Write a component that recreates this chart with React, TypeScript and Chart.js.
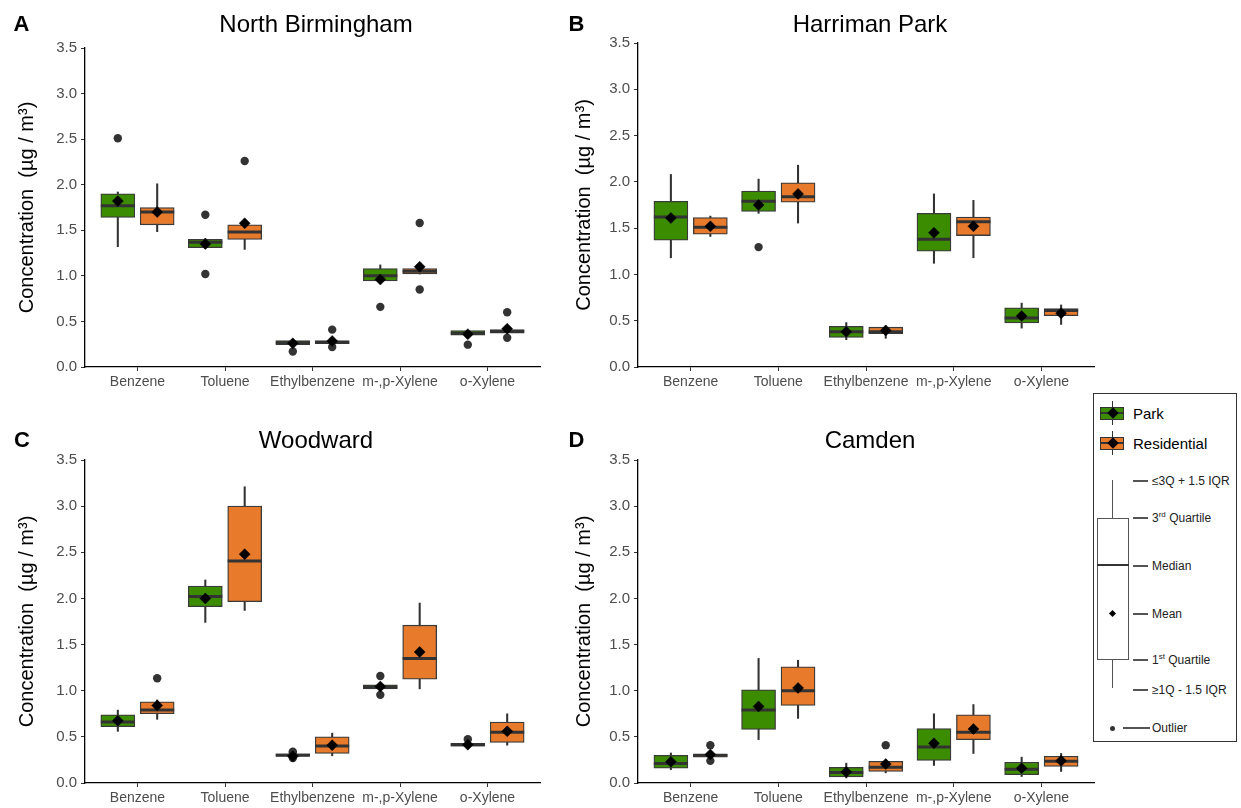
import React, { useEffect, useRef } from "react";
import { Chart, registerables } from "chart.js";
Chart.register(...registerables);

const FONT = '"Liberation Sans", Arial, Helvetica, sans-serif';
const PARK_COLOR = "#3C8C00";
const RES_COLOR = "#E87B2B";

const categories = ["Benzene", "Toluene", "Ethylbenzene", "m-,p-Xylene", "o-Xylene"];
const yMin = 0;
const yMax = 3.5;
const yStep = 0.5;

// each row: [lower whisker, Q1, median, Q3, upper whisker]
const northBirminghamPark = [
  [1.32, 1.64, 1.77, 1.9, 1.92],
  [1.3, 1.31, 1.37, 1.4, 1.41],
  [0.245, 0.245, 0.265, 0.29, 0.29],
  [0.94, 0.945, 1.0, 1.08, 1.12],
  [0.35, 0.35, 0.37, 0.4, 0.4],
];
const northBirminghamParkMean = [1.82, 1.35, 0.26, 0.96, 0.36];
const northBirminghamParkOutliers = [[2.51], [1.67, 1.02], [0.17], [0.66], [0.245]];
const northBirminghamRes = [
  [1.485, 1.56, 1.7, 1.75, 2.01],
  [1.29, 1.4, 1.48, 1.56, 1.58],
  [0.255, 0.255, 0.27, 0.29, 0.29],
  [1.02, 1.02, 1.05, 1.08, 1.09],
  [0.37, 0.37, 0.39, 0.41, 0.41],
];
const northBirminghamResMean = [1.7, 1.577, 0.285, 1.1, 0.42];
const northBirminghamResOutliers = [[], [2.26], [0.41, 0.22], [1.58, 0.85], [0.6, 0.32]];

const harrimanPark = [
  [1.18, 1.37, 1.62, 1.79, 2.08],
  [1.66, 1.68, 1.79, 1.9, 2.03],
  [0.295, 0.32, 0.38, 0.44, 0.48],
  [1.12, 1.25, 1.38, 1.66, 1.87],
  [0.42, 0.475, 0.53, 0.64, 0.69],
];
const harrimanParkMean = [1.61, 1.75, 0.38, 1.45, 0.55];
const harrimanParkOutliers = [[], [1.295], [], [], []];
const harrimanRes = [
  [1.41, 1.435, 1.51, 1.615, 1.63],
  [1.555, 1.78, 1.84, 1.99, 2.18],
  [0.31, 0.36, 0.38, 0.43, 0.445],
  [1.18, 1.42, 1.57, 1.62, 1.8],
  [0.46, 0.555, 0.61, 0.63, 0.67],
];
const harrimanResMean = [1.52, 1.87, 0.395, 1.52, 0.58];
const harrimanResOutliers = [[], [], [], [], []];

const woodwardPark = [
  [0.56, 0.61, 0.66, 0.74, 0.79],
  [1.74, 1.91, 2.02, 2.135, 2.2],
  [0.29, 0.29, 0.3, 0.317, 0.317],
  [1.02, 1.02, 1.04, 1.065, 1.065],
  [0.38, 0.4, 0.415, 0.43, 0.43],
];
const woodwardParkMean = [0.675, 2.0, 0.29, 1.045, 0.415];
const woodwardParkOutliers = [[], [], [0.34, 0.325, 0.27], [1.16, 0.955], [0.475]];
const woodwardRes = [
  [0.69, 0.75, 0.79, 0.88, 0.9],
  [1.87, 1.965, 2.405, 3.0, 3.21],
  [0.295, 0.32, 0.4, 0.5, 0.54],
  [1.02, 1.125, 1.35, 1.71, 1.95],
  [0.41, 0.44, 0.55, 0.66, 0.75],
];
const woodwardResMean = [0.84, 2.48, 0.41, 1.42, 0.56];
const woodwardResOutliers = [[1.135], [], [], [], []];

const camdenPark = [
  [0.145, 0.16, 0.21, 0.3, 0.325],
  [0.47, 0.58, 0.79, 1.01, 1.35],
  [0.055, 0.065, 0.115, 0.17, 0.215],
  [0.19, 0.245, 0.39, 0.59, 0.75],
  [0.07, 0.09, 0.15, 0.225, 0.28],
];
const camdenParkMean = [0.23, 0.83, 0.12, 0.43, 0.16];
const camdenParkOutliers = [[], [], [], [], []];
const camdenRes = [
  [0.28, 0.28, 0.3, 0.31, 0.31],
  [0.7, 0.84, 1.0, 1.26, 1.33],
  [0.11, 0.125, 0.17, 0.235, 0.25],
  [0.32, 0.47, 0.55, 0.74, 0.85],
  [0.125, 0.18, 0.235, 0.29, 0.32],
];
const camdenResMean = [0.31, 1.03, 0.205, 0.585, 0.24];
const camdenResOutliers = [[0.41, 0.24], [], [0.41], [], []];

type Layout = {
  left: number; top: number; width: number; height: number;
  yAxisWidth: number; padTop: number; padRight: number; xAxisHeight: number; yTitlePad: number;
};

type PanelProps = {
  park: number[][]; parkMean: number[]; parkOut: number[][];
  res: number[][]; resMean: number[]; resOut: number[][];
  layout: Layout;
};

function BoxPanel({ park, parkMean, parkOut, res, resMean, resOut, layout }: PanelProps) {
  const ref = useRef<HTMLCanvasElement>(null);
  useEffect(() => {
    if (!ref.current) return;
    const dodge = 0.225;
    const groups = [
      { name: "Park", stats: park, mean: parkMean, out: parkOut, shift: -dodge, color: PARK_COLOR },
      { name: "Residential", stats: res, mean: resMean, out: resOut, shift: dodge, color: RES_COLOR },
    ];
    const datasets: any[] = [];
    groups.forEach((g) => {
      datasets.push({
        type: "bar", label: g.name + " whiskers",
        data: g.stats.map((s, i) => ({ x: i + g.shift, y: [s[0], s[4]] })),
        backgroundColor: "#333333", borderWidth: 0, barThickness: 1.4, maxBarThickness: 1.4,
        grouped: false, order: 6,
      });
      datasets.push({
        type: "bar", label: g.name,
        data: g.stats.map((s, i) => ({ x: i + g.shift, y: [s[1], s[3]] })),
        backgroundColor: g.color, borderColor: "#3a3a3a", borderWidth: 1.3, borderSkipped: false,
        barThickness: 34, maxBarThickness: 34, grouped: false, order: 5,
      });
      datasets.push({
        type: "scatter", label: g.name + " median",
        data: g.stats.map((s, i) => ({ x: i + g.shift, y: s[2] })),
        pointStyle: "line", pointRadius: 17, pointHoverRadius: 17, pointBorderWidth: 3,
        pointBorderColor: "#333333", order: 4,
      });
      datasets.push({
        type: "scatter", label: g.name + " outliers",
        data: g.out.flatMap((arr, i) => arr.map((v) => ({ x: i + g.shift, y: v }))),
        pointStyle: "circle", pointRadius: 4.2, pointHoverRadius: 4.2,
        pointBackgroundColor: "#333333", pointBorderWidth: 0, order: 3,
      });
      datasets.push({
        type: "scatter", label: g.name + " mean",
        data: g.mean.map((v, i) => ({ x: i + g.shift, y: v })),
        pointStyle: "rectRot", pointRadius: 5.5, pointHoverRadius: 5.5,
        pointBackgroundColor: "#000000", pointBorderColor: "#000000", pointBorderWidth: 0.5, order: 1,
      });
    });

    const chart = new Chart(ref.current, {
      type: "bar",
      data: { datasets },
      options: {
        responsive: false,
        animation: false,
        layout: { padding: { top: layout.padTop, right: layout.padRight, left: 0, bottom: 0 } },
        plugins: { legend: { display: false }, tooltip: { enabled: false } },
        scales: {
          x: {
            type: "linear",
            min: -0.6,
            max: categories.length - 0.4,
            offset: false,
            afterBuildTicks: (s: any) => {
              s.ticks = categories.map((_, i) => ({ value: i }));
            },
            afterFit: (s: any) => {
              s.height = layout.xAxisHeight;
            },
            ticks: {
              autoSkip: false, maxRotation: 0, minRotation: 0,
              callback: (_v: any, i: number) => categories[i],
              font: { family: FONT, size: 14 }, color: "#4D4D4D", padding: 3,
            },
            grid: { drawOnChartArea: false, drawTicks: true, tickLength: 4, color: "#333333", offset: false },
            border: { display: true, color: "#000000", width: 1.3 },
          },
          y: {
            type: "linear",
            min: yMin,
            max: yMax,
            afterFit: (s: any) => {
              s.width = layout.yAxisWidth;
            },
            ticks: {
              stepSize: yStep,
              callback: (v: any) => Number(v).toFixed(1),
              font: { family: FONT, size: 15 }, color: "#4D4D4D", padding: 4,
            },
            grid: { drawOnChartArea: false, drawTicks: true, tickLength: 4, color: "#333333" },
            border: { display: true, color: "#000000", width: 1.3 },
            title: {
              display: true,
              text: "Concentration  (µg / m³)",
              font: { family: FONT, size: 20 },
              color: "#000000",
              padding: { top: layout.yTitlePad, bottom: 0 },
            },
          },
        },
      } as any,
    });
    return () => chart.destroy();
  }, []);
  return (
    <canvas
      ref={ref}
      width={layout.width}
      height={layout.height}
      style={{ position: "absolute", left: layout.left, top: layout.top, width: layout.width, height: layout.height }}
    />
  );
}

const abs = (style: React.CSSProperties): React.CSSProperties => ({ position: "absolute", ...style });

function Title({ text, cx, cy }: { text: string; cx: number; cy: number }) {
  return (
    <div style={abs({ left: cx, top: cy, transform: "translate(-50%, -50%)", fontFamily: FONT, fontSize: 24, color: "#000", whiteSpace: "nowrap", lineHeight: 1 })}>
      {text}
    </div>
  );
}

function Letter({ text, x, cy }: { text: string; x: number; cy: number }) {
  return (
    <div style={abs({ left: x, top: cy, transform: "translateY(-50%)", fontFamily: FONT, fontSize: 22, fontWeight: "bold", color: "#000", lineHeight: 1 })}>
      {text}
    </div>
  );
}

function Diamond({ cx, cy, size }: { cx: number; cy: number; size: number }) {
  return (
    <div style={abs({ left: cx - size / 2, top: cy - size / 2, width: size, height: size, background: "#000", transform: "rotate(45deg)" })} />
  );
}

function KeyIcon({ cy, color }: { cy: number; color: string }) {
  const cx = 1112.7;
  return (
    <>
      <div style={abs({ left: cx - 0.75, top: cy - 12, width: 1.5, height: 24, background: "#333" })} />
      <div style={abs({ left: 1100, top: cy - 6.5, width: 24, height: 13, background: color, border: "1px solid #333", boxSizing: "border-box" })} />
      <div style={abs({ left: 1100, top: cy - 1, width: 24, height: 2, background: "#333" })} />
      <Diamond cx={cx} cy={cy} size={8} />
    </>
  );
}

function LegendLabel({ y, children, x1 = 1133, x2 = 1148 }: { y: number; children: React.ReactNode; x1?: number; x2?: number }) {
  return (
    <>
      <div style={abs({ left: x1, top: y - 0.75, width: x2 - x1, height: 1.5, background: "#555" })} />
      <div style={abs({ left: 1152, top: y, transform: "translateY(-50%)", fontFamily: FONT, fontSize: 12, color: "#222", whiteSpace: "nowrap", lineHeight: 1 })}>
        {children}
      </div>
    </>
  );
}

function Legend() {
  const cx = 1112.7;
  const sup: React.CSSProperties = { fontSize: 8, verticalAlign: "super", lineHeight: 0 };
  return (
    <>
      <div style={abs({ left: 1093, top: 393, width: 144, height: 349, border: "1px solid #333", boxSizing: "border-box", background: "#fff" })} />
      <KeyIcon cy={413} color={PARK_COLOR} />
      <div style={abs({ left: 1133, top: 413, transform: "translateY(-50%)", fontFamily: FONT, fontSize: 15, color: "#000", lineHeight: 1 })}>Park</div>
      <KeyIcon cy={443} color={RES_COLOR} />
      <div style={abs({ left: 1133, top: 443, transform: "translateY(-50%)", fontFamily: FONT, fontSize: 15, color: "#000", lineHeight: 1 })}>Residential</div>

      <div style={abs({ left: cx - 0.75, top: 480, width: 1.5, height: 208, background: "#555" })} />
      <div style={abs({ left: 1097, top: 517.5, width: 32, height: 142, background: "#fff", border: "1.5px solid #555", boxSizing: "border-box" })} />
      <div style={abs({ left: 1097, top: 564, width: 32, height: 2, background: "#333" })} />
      <Diamond cx={cx} cy={613} size={5} />

      <LegendLabel y={481}>≤3Q + 1.5 IQR</LegendLabel>
      <LegendLabel y={518}>3<span style={sup}>rd</span> Quartile</LegendLabel>
      <LegendLabel y={566}>Median</LegendLabel>
      <LegendLabel y={614}>Mean</LegendLabel>
      <LegendLabel y={660}>1<span style={sup}>st</span> Quartile</LegendLabel>
      <LegendLabel y={690}>≥1Q - 1.5 IQR</LegendLabel>
      <div style={abs({ left: cx - 2.5, top: 728 - 2.5, width: 5, height: 5, borderRadius: "50%", background: "#333" })} />
      <LegendLabel y={728} x1={1123} x2={1150}>Outlier</LegendLabel>
    </>
  );
}

export default function App() {
  const layoutA: Layout = { left: 0, top: 0, width: 560, height: 400, yAxisWidth: 85, padTop: 48, padRight: 12, xAxisHeight: 33, yTitlePad: 15 };
  const layoutB: Layout = { left: 554, top: 0, width: 560, height: 400, yAxisWidth: 84, padTop: 43, padRight: 11.5, xAxisHeight: 33, yTitlePad: 18 };
  const layoutC: Layout = { left: 0, top: 400, width: 560, height: 408, yAxisWidth: 85, padTop: 60, padRight: 12, xAxisHeight: 25, yTitlePad: 15 };
  const layoutD: Layout = { left: 554, top: 400, width: 560, height: 408, yAxisWidth: 84, padTop: 60, padRight: 11.5, xAxisHeight: 25, yTitlePad: 18 };
  return (
    <div style={{ position: "absolute", left: 0, top: 0, width: 1241, height: 808, background: "#fff", overflow: "hidden" }}>
      <BoxPanel park={northBirminghamPark} parkMean={northBirminghamParkMean} parkOut={northBirminghamParkOutliers}
        res={northBirminghamRes} resMean={northBirminghamResMean} resOut={northBirminghamResOutliers} layout={layoutA} />
      <BoxPanel park={harrimanPark} parkMean={harrimanParkMean} parkOut={harrimanParkOutliers}
        res={harrimanRes} resMean={harrimanResMean} resOut={harrimanResOutliers} layout={layoutB} />
      <BoxPanel park={woodwardPark} parkMean={woodwardParkMean} parkOut={woodwardParkOutliers}
        res={woodwardRes} resMean={woodwardResMean} resOut={woodwardResOutliers} layout={layoutC} />
      <BoxPanel park={camdenPark} parkMean={camdenParkMean} parkOut={camdenParkOutliers}
        res={camdenRes} resMean={camdenResMean} resOut={camdenResOutliers} layout={layoutD} />
      <Title text="North Birmingham" cx={316} cy={23.5} />
      <Title text="Harriman Park" cx={870} cy={23.5} />
      <Title text="Woodward" cx={316} cy={439.5} />
      <Title text="Camden" cx={870} cy={439.5} />
      <Letter text="A" x={13.5} cy={23.5} />
      <Letter text="B" x={568.5} cy={23.5} />
      <Letter text="C" x={14} cy={439.5} />
      <Letter text="D" x={568.5} cy={439.5} />
      <Legend />
    </div>
  );
}
